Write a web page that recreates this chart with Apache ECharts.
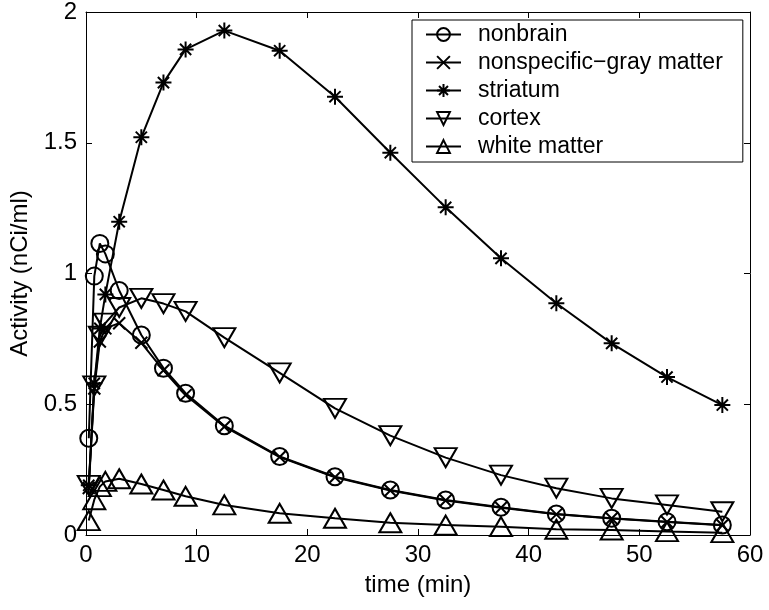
<!DOCTYPE html>
<html>
<head>
<meta charset="utf-8">
<script src="https://cdn.jsdelivr.net/npm/echarts@6/dist/echarts.min.js"></script>
<style>html,body{margin:0;padding:0;background:#fff}#c{width:769px;height:610px}</style>
</head>
<body>
<div id="c"></div>
<script>
// frame mid-times (min)
var times = [0.25, 0.75, 1.25, 1.75, 3, 5, 7, 9, 12.5, 17.5, 22.5, 27.5, 32.5, 37.5, 42.5, 47.5, 52.5, 57.5];
var nonbrain = [0.37, 0.99, 1.115, 1.075, 0.935, 0.765, 0.638, 0.542, 0.418, 0.300, 0.223, 0.172, 0.134, 0.106, 0.080, 0.064, 0.051, 0.038];
var nonspecificGray = [0.18, 0.56, 0.74, 0.79, 0.81, 0.735, 0.630, 0.535, 0.414, 0.298, 0.221, 0.170, 0.132, 0.104, 0.079, 0.063, 0.050, 0.037];
var striatum = [0.19, 0.58, 0.79, 0.92, 1.198, 1.521, 1.73, 1.857, 1.929, 1.852, 1.676, 1.462, 1.253, 1.058, 0.886, 0.733, 0.604, 0.497];
var cortex = [0.19, 0.57, 0.76, 0.81, 0.87, 0.905, 0.885, 0.855, 0.755, 0.620, 0.484, 0.380, 0.296, 0.229, 0.179, 0.140, 0.115, 0.089];
var whiteMatter = [0.055, 0.135, 0.185, 0.205, 0.215, 0.195, 0.172, 0.148, 0.115, 0.083, 0.064, 0.047, 0.038, 0.032, 0.022, 0.019, 0.013, 0.009];
var seriesNames = ['nonbrain', 'nonspecific\u2212gray matter', 'striatum', 'cortex', 'white matter'];
var xMin = 0, xMax = 60, xStep = 10;
var yMin = 0, yMax = 2, yStep = 0.5;

var FONT = 'Liberation Sans';
var AXFS = 24;
var symCircle = 'circle';
var symX = 'path://M0,0L10,10M10,0L0,10';
var symStar = 'path://M5,0L5,10M0,5L10,5M1.5,1.5L8.5,8.5M8.5,1.5L1.5,8.5';
var symDown = 'path://M0,0L10,0L5,8.66Z';
var symUp = 'path://M5,0L10,8.66L0,8.66Z';

function pairs(vals) { return times.map(function (t, i) { return [t, vals[i]]; }); }
function mk(name, vals, symbol, size) {
  return {
    name: name, type: 'line', data: pairs(vals), symbol: symbol, symbolSize: size,
    showAllSymbol: true, xAxisIndex: 0, yAxisIndex: 0,
    lineStyle: { color: '#000', width: 2 },
    itemStyle: { color: 'rgba(0,0,0,0)', borderColor: '#000', borderWidth: 2 },
    emphasis: { disabled: true }
  };
}

var chart = echarts.init(document.getElementById('c'), null, { renderer: 'canvas' });
var axisCommon = {
  type: 'value', splitLine: { show: false },
  axisLine: { show: true, onZero: false, lineStyle: { color: '#000', width: 1 } },
  axisTick: { show: true, inside: true, length: 6, lineStyle: { color: '#000', width: 1 } }
};
chart.setOption({
  animation: false,
  backgroundColor: '#fff',
  grid: { left: 86, right: 19, top: 12, bottom: 75, containLabel: false },
  xAxis: [
    Object.assign({}, axisCommon, {
      position: 'bottom', min: xMin, max: xMax, interval: xStep,
      name: 'time (min)', nameLocation: 'middle', nameGap: 38,
      nameTextStyle: { fontFamily: FONT, fontSize: AXFS, color: '#000' },
      axisLabel: { fontFamily: FONT, fontSize: AXFS, color: '#000', margin: 8 }
    }),
    Object.assign({}, axisCommon, {
      position: 'top', min: xMin, max: xMax, interval: xStep, axisLabel: { show: false }
    })
  ],
  yAxis: [
    Object.assign({}, axisCommon, {
      position: 'left', min: yMin, max: yMax, interval: yStep,
      name: 'Activity (nCi/ml)', nameLocation: 'middle', nameGap: 48, nameRotate: 90,
      nameTextStyle: { fontFamily: FONT, fontSize: AXFS, color: '#000' },
      axisLabel: { fontFamily: FONT, fontSize: AXFS, color: '#000', margin: 9 }
    }),
    Object.assign({}, axisCommon, {
      position: 'right', min: yMin, max: yMax, interval: yStep, axisLabel: { show: false }
    })
  ],
  legend: {
    orient: 'vertical', left: 412, top: 20,
    data: seriesNames,
    itemWidth: 35, itemHeight: 16, itemGap: 5,
    padding: [3, 20, 4, 13],
    borderColor: '#000', borderWidth: 1, backgroundColor: '#fff',
    textStyle: { fontFamily: FONT, fontSize: 23, color: '#000', lineHeight: 22, padding: [0, 0, 0, 12] },
    selectedMode: false
  },
  series: [
    mk(seriesNames[0], nonbrain, symCircle, 17),
    mk(seriesNames[1], nonspecificGray, symX, 12),
    mk(seriesNames[2], striatum, symStar, 16),
    mk(seriesNames[3], cortex, symDown, [22, 19]),
    mk(seriesNames[4], whiteMatter, symUp, [22, 19])
  ]
});
</script>
</body>
</html>
